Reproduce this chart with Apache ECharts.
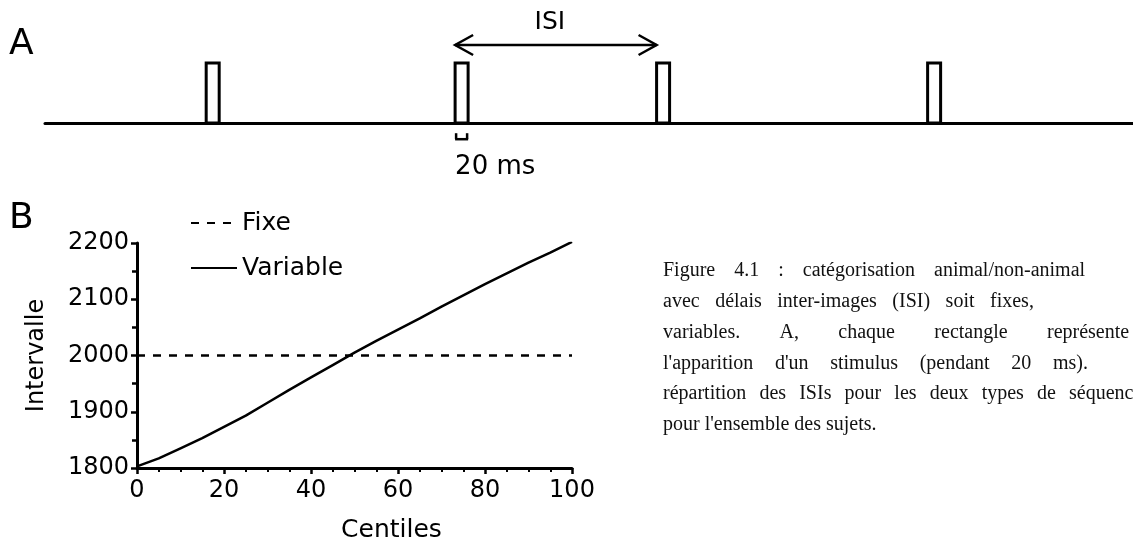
<!DOCTYPE html>
<html>
<head>
<meta charset="utf-8">
<script src="https://cdn.jsdelivr.net/npm/echarts@6/dist/echarts.min.js"></script>
<style>
  html, body { margin: 0; padding: 0; background: #fff; }
  #main { width: 1133px; height: 544px; }
</style>
</head>
<body>
<div id="main"></div>
<script>
// panel A : schematic stimulus sequence (schematic ms, not to scale)
var stimOnsets = [248, 631, 941, 1358];
var stimDuration = 20;
var sequenceEnd = 1674;

// panel B : ISI distribution per centile
var centiles = [0, 5, 10, 15, 20, 25, 30, 35, 40, 45, 50, 55, 60, 65, 70, 75, 80, 85, 90, 95, 100];
var variableISI = [1803, 1817, 1835, 1853, 1873, 1893, 1916, 1939, 1961, 1983, 2005,
    2026, 2046, 2066, 2087, 2107, 2127, 2146, 2165, 2183, 2202];
var fixedISI = 2000;
var seriesNames = ['Fixe', 'Variable'];

// caption (justified lines, clipped on the right like the scan)
var captionLines = [
    ['Figure', '4.1', ':', 'catégorisation', 'animal/non-animal'],
    ['avec', 'délais', 'inter-images', '(ISI)', 'soit', 'fixes,'],
    ['variables.', 'A,', 'chaque', 'rectangle', 'représente'],
    ['l\'apparition', 'd\'un', 'stimulus', '(pendant', '20', 'ms).'],
    ['répartition', 'des', 'ISIs', 'pour', 'les', 'deux', 'types', 'de', 'séquences'],
    ['pour l\'ensemble des sujets.']
];
var captionLastX = [934, 990, 1047, 1053, 1069, null];

var FONT = 'DejaVu Sans';
var SERIF = 'Liberation Serif';
var CAPTION_FONT = '20px "' + SERIF + '"';

var myChart = echarts.init(document.getElementById('main'));

// simple justification of the caption words
var ctx = document.createElement('canvas').getContext('2d');
ctx.font = CAPTION_FONT;
var captionX0 = 663, captionY0 = 271, captionStep = 30.8;
var captionGraphics = [];
captionLines.forEach(function (words, li) {
    var y = captionY0 + li * captionStep;
    var gap = 5;
    if (captionLastX[li] != null && words.length > 1) {
        var w = 0;
        for (var i = 0; i < words.length - 1; i++) w += ctx.measureText(words[i]).width;
        gap = (captionLastX[li] - captionX0 - w) / (words.length - 1);
    }
    var x = captionX0;
    words.forEach(function (word) {
        captionGraphics.push({
            type: 'text', x: x, y: y,
            style: {text: word, font: CAPTION_FONT, fill: '#111', verticalAlign: 'middle'}
        });
        x += ctx.measureText(word).width + gap;
    });
});

var option = {
    backgroundColor: '#fff',
    animation: false,
    textStyle: {fontFamily: FONT, color: '#000'},
    grid: [
        {left: 45, right: 0, top: 63, height: 60},
        {left: 137, right: 561, top: 243, bottom: 74}
    ],
    xAxis: [
        {
            gridIndex: 0, type: 'value', min: 0, max: sequenceEnd,
            axisLine: {lineStyle: {color: '#000', width: 3}},
            axisTick: {show: false}, axisLabel: {show: false}, splitLine: {show: false}
        },
        {
            gridIndex: 1, type: 'value', min: 0, max: 100, interval: 20,
            name: 'Centiles', nameLocation: 'middle', nameGap: 50,
            nameTextStyle: {fontSize: 25, color: '#000', padding: [0, 0, 0, 74]},
            axisLine: {lineStyle: {color: '#000', width: 3}},
            axisTick: {length: 6, lineStyle: {color: '#000', width: 2.5}},
            minorTick: {show: true, splitNumber: 4, length: 4, lineStyle: {color: '#000', width: 2}},
            axisLabel: {fontSize: 24, color: '#000', margin: 11},
            splitLine: {show: false}
        }
    ],
    yAxis: [
        {gridIndex: 0, type: 'value', min: 0, max: 1, show: false},
        {
            gridIndex: 1, type: 'value', min: 1800, max: 2200, interval: 100,
            name: 'Intervalle', nameLocation: 'middle', nameGap: 88, nameRotate: 90,
            nameTextStyle: {fontSize: 24, color: '#000'},
            axisLine: {show: true, lineStyle: {color: '#000', width: 3}},
            axisTick: {show: true, length: 6, lineStyle: {color: '#000', width: 2.5}},
            minorTick: {show: true, splitNumber: 2, length: 5, lineStyle: {color: '#000', width: 2.5}},
            axisLabel: {fontSize: 24, color: '#000', margin: 8, formatter: function (v) { return String(v); }},
            splitLine: {show: false}
        }
    ],
    legend: {
        data: seriesNames, orient: 'vertical', left: 190, top: 209,
        padding: 0, itemGap: 17, itemWidth: 46, itemHeight: 14,
        itemStyle: {color: 'rgba(0,0,0,0)', borderColor: 'rgba(0,0,0,0)', borderWidth: 0, opacity: 0},
        textStyle: {fontSize: 25, color: '#000', lineHeight: 28}
    },
    graphic: [
        {type: 'text', left: 9, top: 27, style: {text: 'A', font: '36px "' + FONT + '"', fill: '#000'}},
        {type: 'text', left: 9, top: 201, style: {text: 'B', font: '36px "' + FONT + '"', fill: '#000'}}
    ].concat(captionGraphics),
    series: [
        {
            // stimuli rectangles
            type: 'custom', xAxisIndex: 0, yAxisIndex: 0, z: 3,
            data: stimOnsets.map(function (t) { return [t, t + stimDuration]; }),
            renderItem: function (params, api) {
                var p0 = api.coord([api.value(0), 0]);
                var p1 = api.coord([api.value(1), 1]);
                return {
                    type: 'rect',
                    shape: {x: p0[0], y: p1[1], width: p1[0] - p0[0], height: p0[1] - p1[1]},
                    style: {fill: '#fff', stroke: '#000', lineWidth: 3}
                };
            }
        },
        {
            // ISI double arrow between two onsets
            type: 'custom', xAxisIndex: 0, yAxisIndex: 0, z: 3,
            data: [[stimOnsets[1], stimOnsets[2]]],
            renderItem: function (params, api) {
                var a = api.coord([api.value(0), 1.3]);
                var b = api.coord([api.value(1), 1.3]);
                var t = api.coord([(api.value(0) + api.value(1)) / 2, 1.67]);
                var ls = {stroke: '#000', lineWidth: 2.5, fill: null};
                return {
                    type: 'group', children: [
                        {type: 'line', shape: {x1: a[0], y1: a[1], x2: b[0], y2: b[1]}, style: ls},
                        {type: 'polyline', shape: {points: [[a[0] + 18, a[1] - 10], [a[0], a[1]], [a[0] + 18, a[1] + 10]]}, style: ls},
                        {type: 'polyline', shape: {points: [[b[0] - 18, b[1] - 10], [b[0], b[1]], [b[0] - 18, b[1] + 10]]}, style: ls},
                        {type: 'text', x: t[0] - 6, y: t[1], style: {text: 'ISI', font: '25px "' + FONT + '"', fill: '#000', align: 'center', verticalAlign: 'middle'}}
                    ]
                };
            }
        },
        {
            // 20 ms scale bar
            type: 'custom', xAxisIndex: 0, yAxisIndex: 0, z: 3,
            data: [[stimOnsets[1], stimOnsets[1] + stimDuration]],
            renderItem: function (params, api) {
                var a = api.coord([api.value(0), -0.27]);
                var b = api.coord([api.value(1), -0.27]);
                var t = api.coord([api.value(0), -0.73]);
                var ls = {stroke: '#000', lineWidth: 2.5};
                return {
                    type: 'group', children: [
                        {type: 'line', shape: {x1: a[0], y1: a[1], x2: b[0], y2: b[1]}, style: ls},
                        {type: 'line', shape: {x1: a[0] + 1, y1: a[1] - 6, x2: a[0] + 1, y2: a[1]}, style: ls},
                        {type: 'line', shape: {x1: b[0] - 1, y1: b[1] - 6, x2: b[0] - 1, y2: b[1]}, style: ls},
                        {type: 'text', x: t[0], y: t[1], style: {text: '20 ms', font: '26px "' + FONT + '"', fill: '#000', verticalAlign: 'middle'}}
                    ]
                };
            }
        },
        {
            name: 'Fixe', type: 'line', xAxisIndex: 1, yAxisIndex: 1,
            data: [[centiles[0], fixedISI], [centiles[centiles.length - 1], fixedISI]],
            symbol: 'none', color: '#000',
            lineStyle: {color: '#000', width: 2.5, type: [8, 8]}
        },
        {
            name: 'Variable', type: 'line', xAxisIndex: 1, yAxisIndex: 1,
            data: centiles.map(function (c, i) { return [c, variableISI[i]]; }),
            symbol: 'none', color: '#000',
            lineStyle: {color: '#000', width: 2.5}
        }
    ]
};

myChart.setOption(option);
window.addEventListener('resize', function () { myChart.resize(); });
</script>
</body>
</html>
